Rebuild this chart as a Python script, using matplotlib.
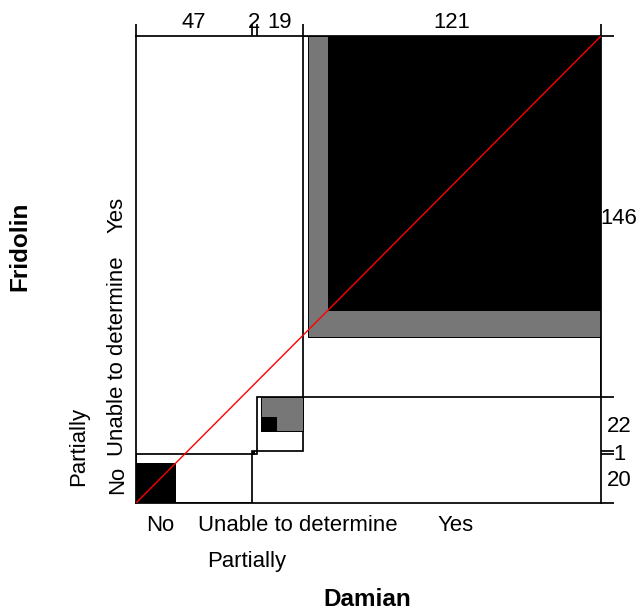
import matplotlib
matplotlib.use("Agg")
import matplotlib.pyplot as plt
from matplotlib.patches import Rectangle
import numpy as np

plt.rcParams['font.family'] = ['Liberation Sans', 'DejaVu Sans']

# rows = Fridolin, columns = Damian
categories = ["No", "Partially", "Unable to determine", "Yes"]
tabla = np.array([
    [16, 0, 2, 2],
    [0, 1, 0, 0],
    [8, 0, 6, 8],
    [23, 1, 11, 111],
])
row_name = "Fridolin"
col_name = "Damian"

# label placement (data units) and line (0 = close, 1 = second line)
xlab_pos = [9.75, 44.9, 65.8, 129.9]
xlab_line = [0, 1, 0, 0]
ylab_pos = [9.3, 22.9, 59.5, 116.6]
ylab_line = [0, 1, 0, 0]

fila_tot = tabla.sum(axis=1)
col_tot = tabla.sum(axis=0)
n = len(categories)
total = tabla.sum()
x0 = np.concatenate([[0], np.cumsum(col_tot)])
y0 = np.concatenate([[0], np.cumsum(fila_tot)])

fig = plt.figure(figsize=(6.42, 6.14), dpi=100)
ax = fig.add_axes([136 / 642, 1 - 503 / 614, 465 / 642, 467 / 614])
ax.set_xlim(0, total)
ax.set_ylim(0, total)

lw = 1.25
colores = {1: "black", 2: "#777777"}
for i in range(n):
    ax.add_patch(Rectangle((x0[i], y0[i]), col_tot[i], fila_tot[i],
                           facecolor="white", edgecolor="black", lw=lw, zorder=1))
    for w in [2, 1]:
        lo = max(0, i - (w - 1))
        hi = min(n, i + w)
        dx = tabla[:lo, i].sum()
        ancho = tabla[lo:hi, i].sum()
        dy = tabla[i, :lo].sum()
        alto = tabla[i, lo:hi].sum()
        if ancho > 0 and alto > 0:
            ax.add_patch(Rectangle((x0[i] + dx, y0[i] + dy), ancho, alto,
                                   facecolor=colores[w], edgecolor="black",
                                   lw=0.7, zorder=2 + (2 - w)))

ax.plot([0, total], [0, total], color="red", lw=1.0, zorder=5)

for s in ax.spines.values():
    s.set_linewidth(lw)
ax.xaxis.tick_top()
ax.yaxis.tick_right()
ax.set_xticks(x0)
ax.set_yticks(y0)
ax.set_xticklabels([])
ax.set_yticklabels([])
ax.tick_params(direction="out", length=9, width=lw, color="black")

fs = 15.9
for i in range(n):
    cx = x0[i] + col_tot[i] / 2
    ax.annotate(str(col_tot[i]), xy=(cx, 1), xycoords=("data", "axes fraction"),
                xytext=(0, 6.1), textcoords="offset points",
                ha="center", va="baseline", fontsize=fs)
    cy = y0[i] + fila_tot[i] / 2
    ax.annotate(str(fila_tot[i]), xy=(1, cy), xycoords=("axes fraction", "data"),
                xytext=(13.0, -5.7), textcoords="offset points",
                ha="center", va="baseline", fontsize=fs)

for lab, pos, linea in zip(categories, xlab_pos, xlab_line):
    off = -20.2 if linea == 0 else -46.0
    ax.annotate(lab, xy=(pos, 0), xycoords=("data", "axes fraction"),
                xytext=(0, off), textcoords="offset points",
                ha="center", va="baseline", fontsize=fs)

for lab, pos, linea in zip(categories, ylab_pos, ylab_line):
    off = -9.4 if linea == 0 else -37.0
    ax.annotate(lab, xy=(0, pos), xycoords=("axes fraction", "data"),
                xytext=(off, 0), textcoords="offset points",
                ha="center", va="baseline", fontsize=fs,
                rotation=90, rotation_mode="anchor")

fig.text(367.5 / 642, 1 - 606 / 614, col_name, ha="center", va="baseline",
         fontsize=17.5, fontweight="bold")
fig.text(26 / 642, 1 - 246 / 614, row_name, ha="center", va="baseline",
         fontsize=17.5, fontweight="bold", rotation=90, rotation_mode="anchor")

fig.savefig("out.png", dpi=100)
